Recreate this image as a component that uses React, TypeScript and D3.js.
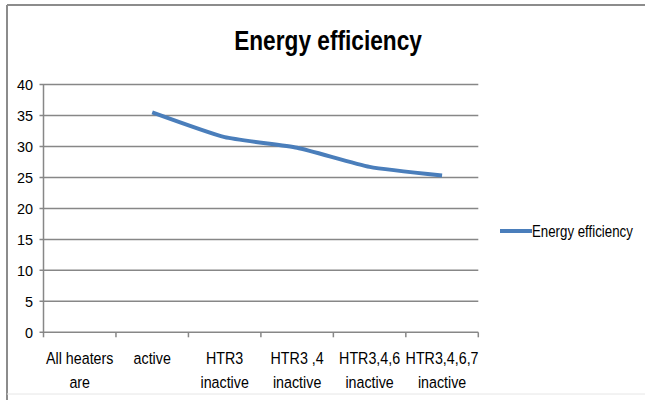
import React from "react";
import * as d3 from "d3";

const categories: string[][] = [
  ["All heaters", "are"],
  ["active"],
  ["HTR3", "inactive"],
  ["HTR3 ,4", "inactive"],
  ["HTR3,4,6", "inactive"],
  ["HTR3,4,6,7", "inactive"],
];
const values: (number | null)[] = [null, 35.5, 31.5, 29.8, 26.7, 25.3];
const yTicks: number[] = [0, 5, 10, 15, 20, 25, 30, 35, 40];
const seriesName = "Energy efficiency";
const title = "Energy efficiency";

const W = 645;
const H = 400;
const font = "'Liberation Sans', Arial, sans-serif";

export default function App() {
  const left = 43.5;
  const right = 478.3;
  const top = 84.5;
  const bottom = 332.3;
  const x = d3
    .scaleBand<number>()
    .domain(categories.map((_, i) => i))
    .range([left, right])
    .paddingInner(0)
    .paddingOuter(0);
  const y = d3.scaleLinear().domain([0, 40]).range([bottom, top]);
  const cx = (i: number) => (x(i) as number) + x.bandwidth() / 2;

  const pts = values
    .map((v, i) => ({ v, i }))
    .filter((d) => d.v !== null) as { v: number; i: number }[];
  const line = d3
    .line<{ v: number; i: number }>()
    .x((d) => cx(d.i))
    .y((d) => y(d.v))
    .curve(d3.curveCardinal.tension(0.5));

  const grid = "#878787";
  const boundaries = d3.range(categories.length + 1).map((k) =>
    k === categories.length ? right : (x(k) as number)
  );

  return (
    <svg
      width={W}
      height={H}
      style={{ position: "absolute", left: 0, top: 0, background: "#fff" }}
      fontFamily={font}
    >
      <rect x={0} y={0} width={W} height={H} fill="#fff" />
      {/* outer border */}
      <line x1={7} y1={5} x2={W} y2={5} stroke="#8c8c8c" strokeWidth={2} />
      <line x1={7} y1={5} x2={7} y2={H} stroke="#8c8c8c" strokeWidth={2} />
      <line x1={7} y1={394} x2={W} y2={394} stroke="#e6e6e6" strokeWidth={1} />

      <text
        transform={`translate(328,50) scale(0.84,1)`}
        textAnchor="middle"
        fontSize={27}
        fontWeight="bold"
        fill="#000"
      >
        {title}
      </text>

      {/* gridlines + y ticks */}
      {yTicks.map((t) => (
        <g key={t}>
          <line
            x1={left - 4}
            x2={right}
            y1={y(t)}
            y2={y(t)}
            stroke={grid}
            strokeWidth={1.5}
          />
          <text
            transform={`translate(33,${y(t)}) scale(0.93,1)`}
            dy="0.36em"
            textAnchor="end"
            fontSize={15.5}
            fill="#000"
          >
            {t}
          </text>
        </g>
      ))}
      {/* y axis */}
      <line x1={left} x2={left} y1={top} y2={bottom} stroke={grid} strokeWidth={1.5} />
      {/* x ticks */}
      {boundaries.map((bx, k) => (
        <line
          key={k}
          x1={bx}
          x2={bx}
          y1={bottom}
          y2={bottom + 5}
          stroke={grid}
          strokeWidth={1.5}
        />
      ))}
      {/* x labels */}
      {categories.map((lines, i) => (
        <text
          key={i}
          transform={`translate(${cx(i)},0) scale(0.84,1)`}
          textAnchor="middle"
          fontSize={17}
          fill="#000"
        >
          {lines.map((l, j) => (
            <tspan key={j} x={0} y={364 + j * 24}>
              {l}
            </tspan>
          ))}
        </text>
      ))}

      {/* series */}
      <path
        d={line(pts) || ""}
        fill="none"
        stroke="#4a7ebb"
        strokeWidth={4}
        strokeLinecap="butt"
        strokeLinejoin="round"
      />

      {/* legend */}
      <line x1={500} x2={532} y1={231} y2={231} stroke="#4a7ebb" strokeWidth={4} />
      <text
        transform={`translate(532,231) scale(0.83,1)`}
        dy="0.36em"
        fontSize={16}
        fill="#000"
      >
        {seriesName}
      </text>
    </svg>
  );
}
